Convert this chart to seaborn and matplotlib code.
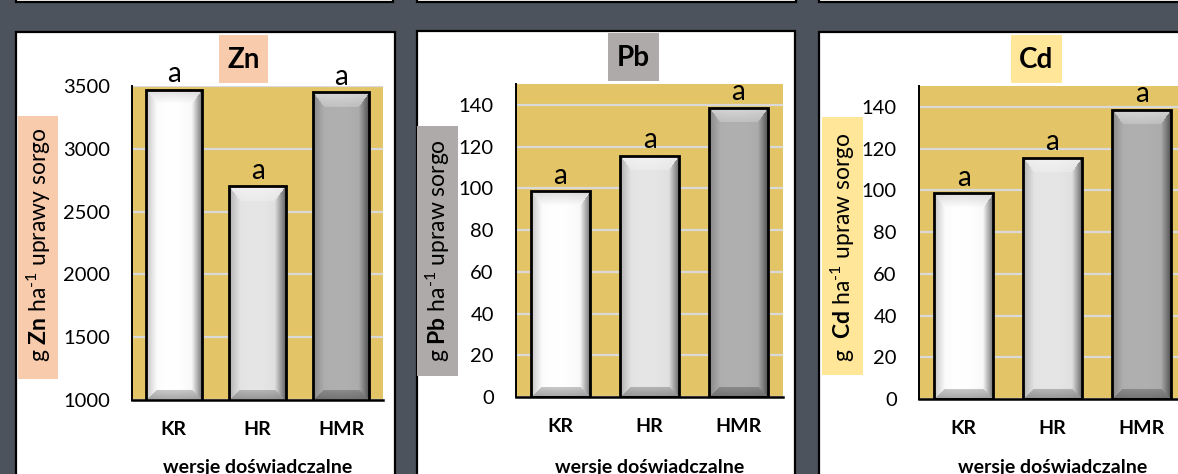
import numpy as np
import pandas as pd
import matplotlib
matplotlib.use("Agg")
import matplotlib.pyplot as plt
import seaborn as sns
from matplotlib.patches import Rectangle
from matplotlib.colors import to_rgb

# ---- data -------------------------------------------------------------
categories = ["KR", "HR", "HMR"]
zn_values = [3470, 2700, 3450]
pb_values = [98.5, 115.5, 138.5]
cd_values = [98.5, 115.5, 138.5]
zn_letters = ["a", "a", "a"]
pb_letters = ["a", "a", "a"]
cd_letters = ["a", "a", "a"]
zn_ticks = [1000, 1500, 2000, 2500, 3000, 3500]
pb_ticks = [0, 20, 40, 60, 80, 100, 120, 140]
cd_ticks = [0, 20, 40, 60, 80, 100, 120, 140]
x_title = "wersje doświadczalne"

# ---- style ------------------------------------------------------------
sns.set_style("white")
plt.rcParams["font.family"] = ["Lato", "DejaVu Sans"]
plt.rcParams["mathtext.fontset"] = "custom"
plt.rcParams["mathtext.rm"] = "Lato"
plt.rcParams["mathtext.bf"] = "Lato:bold"
plt.rcParams["mathtext.it"] = "Lato:italic"
plt.rcParams["text.color"] = "black"
plt.rcParams["axes.labelcolor"] = "black"

W, H = 1178, 474
BG = "#4c535c"
PLOT_BG = "#e3c467"
GRID = "#d9d9d9"
bar_colors = ["#ffffff", "#e6e6e6", "#b0b0b0"]

fig = plt.figure(figsize=(W / 100, H / 100), dpi=100)
fig.patch.set_facecolor(BG)


def frac_rect(x0, y0, x1, y1):
    """Pixel box (top-left origin) -> figure fraction rectangle."""
    return (x0 / W, 1 - y1 / H, (x1 - x0) / W, (y1 - y0) / H)


def fig_box(x0, y0, x1, y1, fc, ec="none", lw=0, z=-1):
    l, b, w, h = frac_rect(x0, y0, x1, y1)
    fig.add_artist(Rectangle((l, b), w, h, transform=fig.transFigure,
                             facecolor=fc, edgecolor=ec, linewidth=lw,
                             zorder=z))


# white chart frames (partly outside the canvas)
for (x0, y0, x1, y1) in [(16, -20, 393, 2), (417, -20, 796, 2),
                         (819, -20, 1195, 2),
                         (16, 32, 395, 500), (417, 31, 795, 500),
                         (819, 32, 1195, 500)]:
    fig_box(x0, y0, x1, y1, "white", "black", 1.6, z=-2)


def bevel_rgba(color, w, h):
    """Bevelled shading for one bar, w x h pixels."""
    base = np.array(to_rgb(color))
    w = max(int(round(w)), 2)
    h = max(int(round(h)), 2)
    U, V = np.meshgrid(np.arange(w) + 0.5, np.arange(h) + 0.5)
    side, top, bot = 11.0, 15.0, 10.0
    n = np.stack([U / side, (w - U) / side, V / top, (h - V) / bot])
    idx = np.argmin(n, axis=0)
    m = np.min(n, axis=0)
    edge = m < 1
    f = np.ones((h, w))
    lit = np.zeros((h, w))
    # soft body gradient
    f *= 1 - 0.05 * ((U / w - 0.45) * 2) ** 2
    left = edge & (idx == 0)
    right = edge & (idx == 1)
    topm = edge & (idx == 2)
    botm = edge & (idx == 3)
    f[left] *= 1 - 0.2 * (1 - n[0][left])
    f[right] *= 1 - 0.55 * (1 - n[1][right])
    lit[topm] = 0.5 * (1 - 0.6 * n[2][topm])
    f[botm] *= 1 - 0.35 * (1 - 0.4 * n[3][botm])
    col = base[None, None, :] * f[..., None]
    col = col + (1 - col) * lit[..., None]
    # white bar: grey shadow on the top bevel
    if base.min() > 0.97:
        col[topm] *= (1 - 0.14 * (1 - n[2][topm]))[:, None]
    rgba = np.concatenate([np.clip(col, 0, 1), np.ones((h, w, 1))], axis=2)
    return rgba


panels = [
    dict(values=zn_values, letters=zn_letters, ticks=zn_ticks,
         ylim=(1000, 3500), axes_px=(132, 86, 383, 400),
         title="Zn", title_box=(219, 35, 268, 83), title_xy=(243.5, 60),
         color="#f8cbad",
         ylabel=r"g $\mathbf{Zn}$ ha$^{\text{-1}}$ uprawy sorgo",
         ylabel_box=(18, 116, 58, 379), ylabel_xy=(39, 245)),
    dict(values=pb_values, letters=pb_letters, ticks=pb_ticks,
         ylim=(0, 150), axes_px=(516, 84, 783, 397),
         title="Pb", title_box=(608, 33, 659, 81), title_xy=(633.5, 58),
         color="#aeaaaa",
         ylabel=r"g $\mathbf{Pb}$ ha$^{\text{-1}}$ upraw sorgo",
         ylabel_box=(417, 126, 458, 376), ylabel_xy=(438, 251)),
    dict(values=cd_values, letters=cd_letters, ticks=cd_ticks,
         ylim=(0, 150), axes_px=(919, 86, 1186, 399),
         title="Cd", title_box=(1011, 35, 1062, 83), title_xy=(1036.5, 60),
         color="#ffe699",
         ylabel=r"g  $\mathbf{Cd}$ ha$^{\text{-1}}$ upraw sorgo",
         ylabel_box=(822, 117, 863, 375), ylabel_xy=(843, 247)),
]

for p in panels:
    x0, y0, x1, y1 = p["axes_px"]
    ax = fig.add_axes(frac_rect(x0, y0, x1, y1))
    ax.set_facecolor(PLOT_BG)
    df = pd.DataFrame({"wariant": categories, "wartosc": p["values"]})
    sns.barplot(data=df, x="wariant", y="wartosc", hue="wariant",
                palette=bar_colors, width=0.67, edgecolor="black",
                linewidth=2.0, legend=False, ax=ax, saturation=1)
    ax.set_ylim(*p["ylim"])
    ax.set_yticks(p["ticks"])
    ax.set_xlim(-0.5, 2.5)
    ax.set_axisbelow(True)
    ax.yaxis.grid(True, color=GRID, linewidth=1.6)
    ax.xaxis.grid(False)
    for s in ("top", "right"):
        ax.spines[s].set_visible(False)
    ax.spines["left"].set_color("black")
    ax.spines["left"].set_linewidth(1.4)
    ax.spines["bottom"].set_color("black")
    ax.spines["bottom"].set_linewidth(1.8)
    ax.tick_params(axis="y", length=0, pad=16, labelsize=14.5, colors="black")
    ax.tick_params(axis="x", length=0, pad=15, labelsize=14, colors="black")
    for lab in ax.get_xticklabels():
        lab.set_fontweight("bold")

    # bevelled bar faces
    fig.canvas.draw()
    ymin = p["ylim"][0]
    for patch in ax.patches:
        bx, by = patch.get_x(), patch.get_y()
        bw, bh = patch.get_width(), patch.get_height()
        yb = max(by, ymin)
        yt = by + bh
        (px0, py0), (px1, py1) = ax.transData.transform([(bx, yb), (bx + bw, yt)])
        img = bevel_rgba(patch.get_facecolor(), abs(px1 - px0), abs(py1 - py0))
        im = ax.imshow(img, extent=(bx, bx + bw, yb, yt), origin="upper",
                       aspect="auto", zorder=1.8, interpolation="bilinear")
        im.set_clip_path(patch)
        patch.set_facecolor("none")
        patch.set_zorder(2.2)
    ax.set_xlim(-0.5, 2.5)
    ax.set_ylim(*p["ylim"])

    # significance letters above bars
    for i, (v, t) in enumerate(zip(p["values"], p["letters"])):
        ax.annotate(t, (i, v), xytext=(0, 2), textcoords="offset points",
                    ha="center", va="bottom", fontsize=20,
                    annotation_clip=False, zorder=4)

    # axis titles
    ax.set_xlabel(x_title, fontsize=14, fontweight="bold")
    ax.xaxis.label.set_va("center")
    ax.xaxis.set_label_coords(0.5, (y1 - 467) / (y1 - y0))

    bx0, by0, bx1, by1 = p["ylabel_box"]
    fig_box(bx0, by0, bx1, by1, p["color"])
    ax.set_ylabel(p["ylabel"], fontsize=16.5)
    ax.yaxis.label.set_ha("center")
    ax.yaxis.label.set_va("center")
    cx, cy = p["ylabel_xy"]
    ax.yaxis.set_label_coords((cx - x0) / (x1 - x0), (y1 - cy) / (y1 - y0))

    tx0, ty0, tx1, ty1 = p["title_box"]
    fig_box(tx0, ty0, tx1, ty1, p["color"])
    tx, ty = p["title_xy"]
    fig.text(tx / W, 1 - ty / H, p["title"], fontsize=20, fontweight="bold",
             ha="center", va="center", zorder=1)

fig.savefig("out.png", dpi=100, facecolor=BG)
